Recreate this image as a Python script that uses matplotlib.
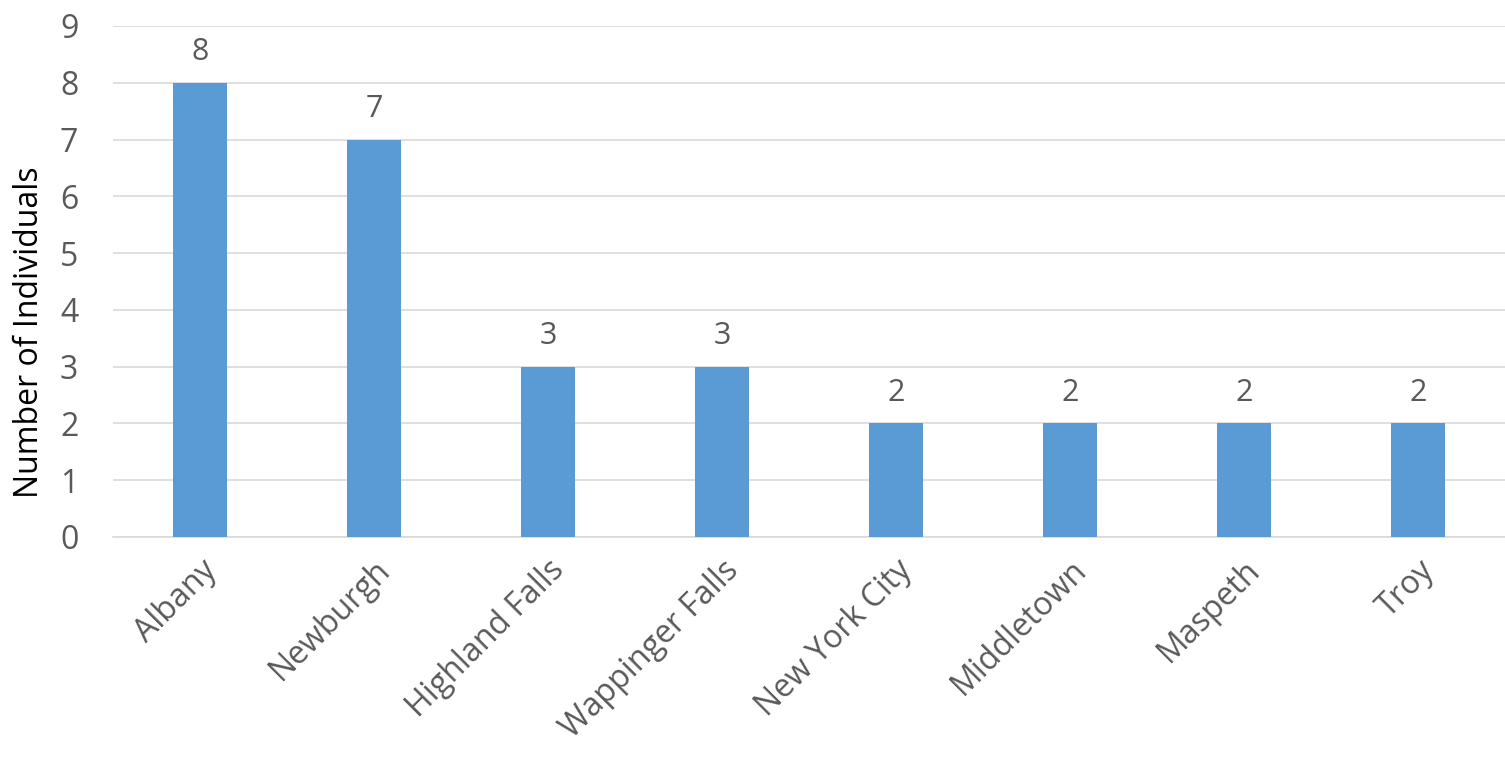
import matplotlib
matplotlib.use("Agg")
import matplotlib.pyplot as plt

cities = ["Albany", "Newburgh", "Highland Falls", "Wappinger Falls",
          "New York City", "Middletown", "Maspeth", "Troy"]
counts = [8, 7, 3, 3, 2, 2, 2, 2]

plt.rcParams["font.family"] = ["Open Sans", "DejaVu Sans"]
gray = "#595959"

fig = plt.figure(figsize=(15.05, 7.62), dpi=100)
ax = fig.add_axes([0.0751, 0.2953, 0.9249, 0.6706])

x = range(len(cities))
bars = ax.bar(x, counts, width=0.31, color="#5B9BD5", zorder=3)
for xi, v in zip(x, counts):
    ax.text(xi, v + 0.28, str(v), ha="center", va="bottom", fontsize=22, color=gray)

ax.set_xlim(-0.5, len(cities) - 0.5)
ax.set_ylim(0, 9)
ax.set_yticks(range(10))
ax.grid(axis="y", color="#D9D9D9", linewidth=1.2, zorder=0)
for s in ["top", "right", "left"]:
    ax.spines[s].set_visible(False)
ax.spines["bottom"].set_color("#D9D9D9")
ax.spines["bottom"].set_linewidth(1.2)
ax.tick_params(axis="both", length=0, colors=gray, labelsize=23)
ax.tick_params(axis="y", pad=25)
ax.tick_params(axis="x", pad=12)
ax.set_xticks(list(x))
ax.set_xticklabels(cities, rotation=45, ha="right", rotation_mode="anchor")
ax.set_ylabel("Number of Individuals", fontsize=23, color="black")
ax.yaxis.set_label_coords(-0.048, 0.40)

fig.savefig("out.png", dpi=100)
